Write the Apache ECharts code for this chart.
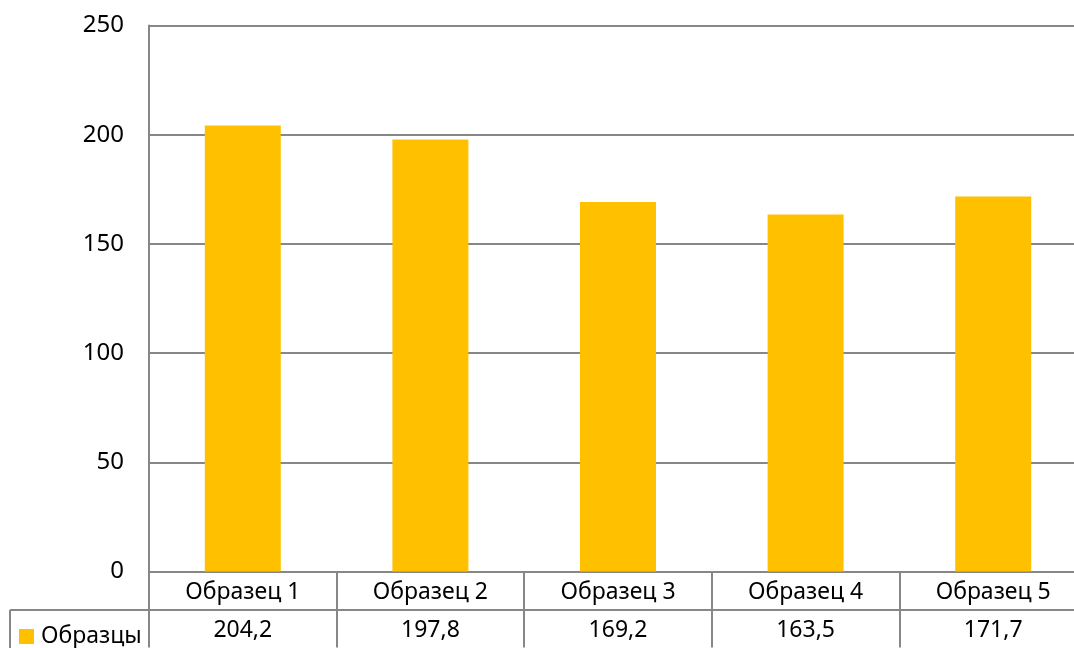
<!DOCTYPE html>
<html>
<head>
<meta charset="utf-8">
<script src="https://cdn.jsdelivr.net/npm/echarts@6/dist/echarts.min.js"></script>
<style>
  html, body { margin: 0; padding: 0; background: #fff; }
  #main { width: 1074px; height: 648px; }
</style>
</head>
<body>
<div id="main"></div>
<script>
// данные диаграммы
var categories = ['Образец 1', 'Образец 2', 'Образец 3', 'Образец 4', 'Образец 5']
var seriesName = 'Образцы'
var values = [204.2, 197.8, 169.2, 163.5, 171.7]
var yTicks = [0, 50, 100, 150, 200, 250]

var FONT = '"Noto Sans", sans-serif'
var GRID_COLOR = '#878787'

// подписи второй строки таблицы (с запятой)
var valueLabels = values.map(function (v) {
  return v.toFixed(1).replace('.', ',')
})

var chart = echarts.init(document.getElementById('main'))

var option = {
  animation: false,
  textStyle: { fontFamily: FONT },
  grid: {
    left: 149,
    top: 25.5,
    width: 938,
    height: 546,
    outerBoundsMode: 'none'
  },
  legend: {
    left: 14,
    top: 620,
    padding: 5,
    icon: 'rect',
    itemWidth: 15,
    itemHeight: 15,
    itemGap: 0,
    textStyle: { fontFamily: FONT, fontSize: 23, color: '#000', padding: [0, 0, 0, 2] },
    data: [seriesName]
  },
  xAxis: [
    {
      type: 'category',
      data: categories,
      position: 'bottom',
      axisLine: { show: true, lineStyle: { color: GRID_COLOR, width: 2 } },
      axisTick: { show: true, length: 38, lineStyle: { color: GRID_COLOR, width: 2 } },
      axisLabel: { fontFamily: FONT, fontSize: 23, color: '#000', margin: 9, lineHeight: 23 }
    },
    {
      type: 'category',
      data: valueLabels,
      position: 'bottom',
      offset: 38,
      axisLine: { show: true, lineStyle: { color: GRID_COLOR, width: 2 } },
      axisTick: { show: true, length: 38, lineStyle: { color: GRID_COLOR, width: 2 } },
      axisLabel: { fontFamily: FONT, fontSize: 23, color: '#000', margin: 9, lineHeight: 23 }
    }
  ],
  yAxis: {
    type: 'value',
    min: yTicks[0],
    max: yTicks[yTicks.length - 1],
    interval: 50,
    axisLine: { show: true, lineStyle: { color: GRID_COLOR, width: 2 } },
    axisTick: { show: false },
    splitLine: { lineStyle: { color: GRID_COLOR, width: 2 } },
    axisLabel: { fontFamily: FONT, fontSize: 24, color: '#000', margin: 25 }
  },
  series: [{
    name: seriesName,
    type: 'bar',
    xAxisIndex: 0,
    data: values,
    barWidth: 76,
    itemStyle: { color: '#FFC000' }
  }],
  // левая ячейка таблицы (легенда)
  graphic: [
    {
      type: 'line',
      shape: { x1: 10, y1: 610, x2: 149, y2: 610 },
      style: { stroke: GRID_COLOR, lineWidth: 2 }
    },
    {
      type: 'line',
      shape: { x1: 10, y1: 610, x2: 10, y2: 648 },
      style: { stroke: GRID_COLOR, lineWidth: 2 }
    }
  ]
}

chart.setOption(option)
</script>
</body>
</html>
